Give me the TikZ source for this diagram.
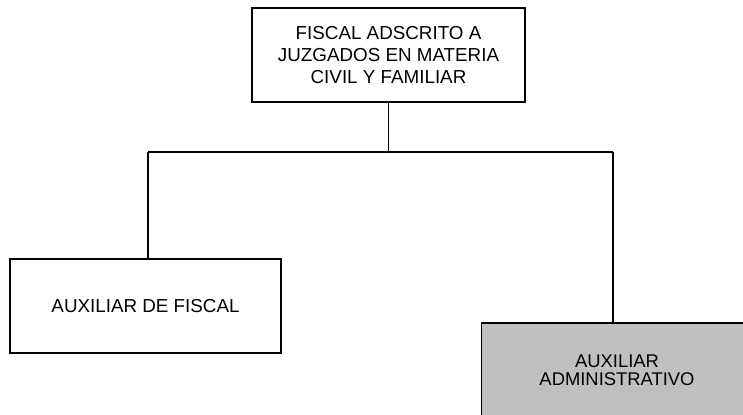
\documentclass[tikz,border=0pt]{standalone}
\usepackage{fontspec}
\setmainfont{Liberation Sans}
\usepackage{tikz}

\definecolor{boxgray}{HTML}{C0C0C0}

\begin{document}
\begin{tikzpicture}[x=0.5pt,y=-0.5pt,line width=0.7pt,
  puesto/.style={draw,rectangle,align=center,inner sep=0pt,
    font=\fontsize{9.4}{10.85}\selectfont},
  mando/.style={puesto,minimum width=136.5pt,minimum height=47pt},
  apoyo/.style={puesto,minimum width=135.5pt,minimum height=47pt}]
\useasboundingbox (0,0) rectangle (743,414);

\node[mando] (fiscal) at (388.5,55)
  {FISCAL ADSCRITO A\\JUZGADOS EN MATERIA\\CIVIL Y FAMILIAR};
\node[apoyo] (auxfiscal) at (145.5,306) {AUXILIAR DE FISCAL};
\node[apoyo,fill=boxgray,font=\fontsize{9.2}{9.2}\selectfont] (auxadmin) at (617,370)
  {AUXILIAR\\ADMINISTRATIVO};

\coordinate (busl) at (148,152);
\coordinate (busr) at (613,152);
\draw (busl) -- (busr);
\draw (fiscal.south) -- (fiscal.south |- busl);
\draw (busl) -- (busl |- auxfiscal.north);
\draw (busr) -- (busr |- auxadmin.north);
\end{tikzpicture}
\end{document}
